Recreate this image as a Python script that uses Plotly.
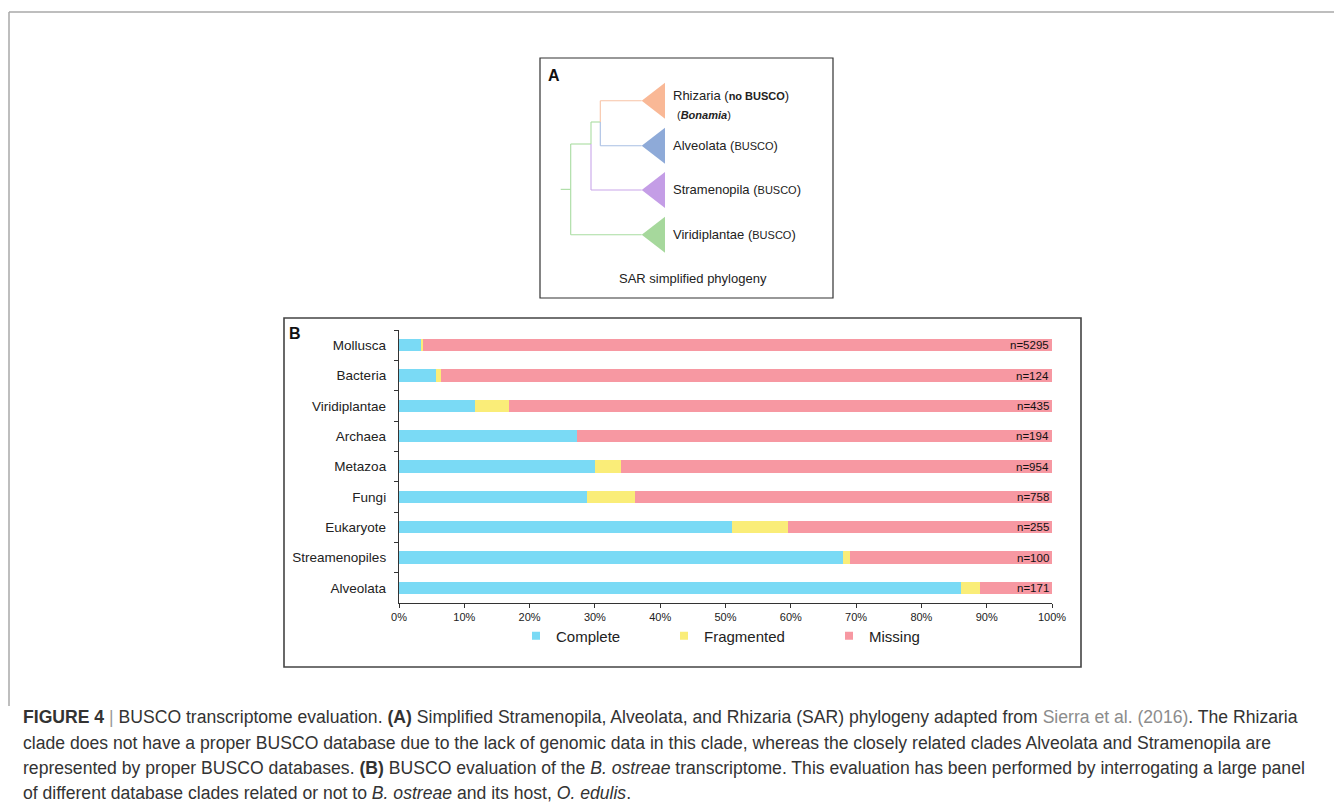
import plotly.graph_objects as go

W, H = 1342, 808

# ---------------- data (panel B) ----------------
categories = ["Mollusca", "Bacteria", "Viridiplantae", "Archaea", "Metazoa",
              "Fungi", "Eukaryote", "Streamenopiles", "Alveolata"]
complete = [3.4, 5.6, 11.6, 27.3, 30.0, 28.8, 51.0, 68.0, 86.0]
fragmented = [0.3, 0.9, 5.2, 0.0, 4.0, 7.4, 8.6, 1.0, 2.9]
missing = [96.3, 93.5, 83.2, 72.7, 66.0, 63.8, 40.4, 31.0, 11.1]
n_buscos = [5295, 124, 435, 194, 954, 758, 255, 100, 171]
series_names = ["Complete", "Fragmented", "Missing"]
tick_values = [0, 10, 20, 30, 40, 50, 60, 70, 80, 90, 100]
tick_labels = ["0%", "10%", "20%", "30%", "40%", "50%", "60%", "70%", "80%", "90%", "100%"]

# ---------------- panel A content ----------------
clade_labels = [
    "Rhizaria (<b><span style='font-size:11px'>no BUSCO</span></b>)",
    "Alveolata (<span style='font-size:11px'>BUSCO</span>)",
    "Stramenopila (<span style='font-size:11px'>BUSCO</span>)",
    "Viridiplantae (<span style='font-size:11px'>BUSCO</span>)",
]

caption_lines = [
    "<b>FIGURE 4</b> <span style='color:#9a9a9a'>|</span> BUSCO transcriptome evaluation. <b>(A)</b> Simplified Stramenopila, Alveolata, and Rhizaria (SAR) phylogeny adapted from <span style='color:#8c8c8c'>Sierra et al. (2016)</span>. The Rhizaria",
    "clade does not have a proper BUSCO database due to the lack of genomic data in this clade, whereas the closely related clades Alveolata and Stramenopila are",
    "represented by proper BUSCO databases. <b>(B)</b> BUSCO evaluation of the <i>B. ostreae</i> transcriptome. This evaluation has been performed by interrogating a large panel",
    "of different database clades related or not to <i>B. ostreae</i> and its host, <i>O. edulis</i>.",
]

# ---------------- styles ----------------
FONT = "Liberation Sans, Arial, sans-serif"
bar_colors = ["#7adaf5", "#faed78", "#f798a2"]
tree_fill = ["#f9b896", "#8eaad8", "#c49de6", "#a6d89c"]
tree_line = ["#f7c3a6", "#a9bfe3", "#c9a6ea", "#a9dca1"]

# page offset compensation (page body margin)
OFF_X, OFF_Y = 8, 8


def px(x):
    return (x - OFF_X) / W


def py(y):
    return 1 - (y - OFF_Y) / H


fig = go.Figure()

series_values = [complete, fragmented, missing]
for name, vals, col in zip(series_names, series_values, bar_colors):
    fig.add_trace(go.Bar(
        y=categories, x=vals, name=name, orientation="h",
        marker=dict(color=col, line=dict(width=0)),
        showlegend=False, hoverinfo="x+y+name",
    ))

# legend proxies (small square swatches), one legend per entry
legend_ids = ["legend", "legend2", "legend3"]
for name, col, lid in zip(series_names, bar_colors, legend_ids):
    fig.add_trace(go.Scatter(
        x=[None], y=[None], mode="markers", name=name,
        marker=dict(symbol="square", size=8, color=col),
        legend=lid, showlegend=True,
    ))

# n= labels
for cat, n in zip(categories, n_buscos):
    fig.add_annotation(
        x=100, y=cat, xref="x", yref="y", text=f"n={n}", showarrow=False,
        xanchor="right", yanchor="middle", xshift=-1,
        font=dict(family=FONT, size=11.5, color="#111"),
    )

shapes = []
# outer page frame
shapes.append(dict(type="line", xref="paper", yref="paper", x0=px(9), x1=px(W + 20),
                   y0=py(12), y1=py(12), line=dict(color="#a8a8a8", width=1.5)))
shapes.append(dict(type="line", xref="paper", yref="paper", x0=px(9), x1=px(9),
                   y0=py(12), y1=py(706), line=dict(color="#a8a8a8", width=1.5)))
# panel boxes
shapes.append(dict(type="rect", xref="paper", yref="paper", x0=px(540), x1=px(833),
                   y0=py(58), y1=py(298), line=dict(color="#333", width=1.2)))
shapes.append(dict(type="rect", xref="paper", yref="paper", x0=px(284), x1=px(1081),
                   y0=py(318), y1=py(667), line=dict(color="#444", width=1.6)))

# ---- phylogeny tree (panel A) ----
leaf_y = [100.7, 145.7, 190.0, 234.7]
tip_x, base_x, half = 641.7, 665.0, 18.0
x_root_stub, x_root, x_sar, x_ra = 560.7, 570.7, 591.0, 600.3
y_ra = (leaf_y[0] + leaf_y[1]) / 2 - 1.2
y_root_top = 144.0
y_root_mid = (y_root_top + leaf_y[3]) / 2


def seg(x0, y0, x1, y1, color):
    shapes.append(dict(type="line", xref="paper", yref="paper", x0=px(x0), y0=py(y0),
                       x1=px(x1), y1=py(y1), line=dict(color=color, width=1.1)))


g, pu, o, b = tree_line[3], tree_line[2], tree_line[0], tree_line[1]
seg(x_root_stub, y_root_mid, x_root, y_root_mid, g)
seg(x_root, y_root_top, x_root, leaf_y[3], g)
seg(x_root, y_root_top, x_sar, y_root_top, g)
seg(x_sar, y_ra, x_sar, y_root_top, g)
seg(x_sar, y_ra, x_ra, y_ra, g)
seg(x_root, leaf_y[3], tip_x, leaf_y[3], g)
seg(x_sar, y_root_top, x_sar, leaf_y[2], pu)
seg(x_sar, leaf_y[2], tip_x, leaf_y[2], pu)
seg(x_ra, leaf_y[0], x_ra, y_ra, o)
seg(x_ra, leaf_y[0], tip_x, leaf_y[0], o)
seg(x_ra, y_ra, x_ra, leaf_y[1], b)
seg(x_ra, leaf_y[1], tip_x, leaf_y[1], b)

for yl, fc in zip(leaf_y, tree_fill):
    path = (f"M {px(tip_x)},{py(yl)} L {px(base_x)},{py(yl - half)} "
            f"L {px(base_x)},{py(yl + half)} Z")
    shapes.append(dict(type="path", xref="paper", yref="paper", path=path,
                       fillcolor=fc, line=dict(width=0)))

label_y = [96.0, 145.3, 189.7, 234.0]
for txt, yl in zip(clade_labels, label_y):
    fig.add_annotation(x=px(671), y=py(yl), xref="paper", yref="paper", text=txt,
                       showarrow=False, xanchor="left", yanchor="middle",
                       font=dict(family=FONT, size=13, color="#222"))
fig.add_annotation(x=px(675), y=py(114.7), xref="paper", yref="paper",
                   text="(<b><i>Bonamia</i></b>)", showarrow=False, xanchor="left",
                   yanchor="middle", font=dict(family=FONT, size=11, color="#222"))
fig.add_annotation(x=px(692.7), y=py(278), xref="paper", yref="paper",
                   text="SAR simplified phylogeny", showarrow=False, xanchor="center",
                   yanchor="middle", font=dict(family=FONT, size=13, color="#222"))
# panel letters
fig.add_annotation(x=px(546), y=py(76), xref="paper", yref="paper", text="<b>A</b>",
                   showarrow=False, xanchor="left", yanchor="middle",
                   font=dict(family=FONT, size=16, color="#111"))
fig.add_annotation(x=px(287), y=py(333), xref="paper", yref="paper", text="<b>B</b>",
                   showarrow=False, xanchor="left", yanchor="middle",
                   font=dict(family=FONT, size=16, color="#111"))

# caption
cap_y = [717.3, 742.7, 768.3, 793.3]
for txt, yl in zip(caption_lines, cap_y):
    fig.add_annotation(x=px(21), y=py(yl), xref="paper", yref="paper", text=txt,
                       showarrow=False, xanchor="left", yanchor="middle",
                       font=dict(family=FONT, size=17.6, color="#333"))

legend_common = dict(orientation="h", xanchor="left", yanchor="middle",
                     font=dict(family=FONT, size=15, color="#222"),
                     bgcolor="rgba(0,0,0,0)", itemwidth=30, y=py(636))

fig.update_layout(
    width=W, height=H,
    margin=dict(l=0, r=0, t=0, b=0, autoexpand=False),
    paper_bgcolor="white", plot_bgcolor="white",
    barmode="stack", bargap=0.59,
    font=dict(family=FONT, color="#222"),
    shapes=shapes,
    legend=dict(x=px(516), **legend_common),
    legend2=dict(x=px(664), **legend_common),
    legend3=dict(x=px(829), **legend_common),
    xaxis=dict(domain=[px(399), px(1052)], range=[0, 100], tickvals=tick_values,
               ticktext=tick_labels, ticks="outside", ticklen=4, tickcolor="#333",
               showline=True, linecolor="#333", linewidth=1.3, showgrid=False,
               zeroline=False, tickfont=dict(family=FONT, size=11, color="#222"),
               fixedrange=True, automargin=False),
    yaxis=dict(domain=[py(603), py(330)], type="category", categoryorder="array",
               categoryarray=categories, autorange="reversed", ticks="outside",
               tickson="boundaries", ticklen=4, tickcolor="#333", showline=True,
               linecolor="#333", linewidth=1.3, showgrid=False,
               tickfont=dict(family=FONT, size=13.5, color="#222"),
               ticklabelstandoff=9, fixedrange=True, automargin=False),
)

fig.write_html("out.html")
